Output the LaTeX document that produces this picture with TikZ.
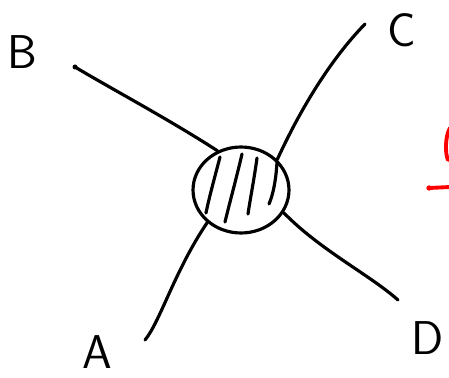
\documentclass[tikz,border=0pt]{standalone}
\usepackage{tikz}
\usetikzlibrary{shapes.geometric}
\tikzset{
  stroke/.style={line width=1.8pt, line cap=round, line join=round},
  lbl/.style={font=\sffamily\fontsize{27}{27}\selectfont, inner sep=0pt}
}
\begin{document}
\begin{tikzpicture}[x=0.02cm, y=-0.02cm]
\useasboundingbox (0,0) rectangle (449,378);
\node[stroke, draw, ellipse, minimum width=1.92cm, minimum height=1.72cm, inner sep=0pt] (blob) at (241,190) {};
\node[lbl] (B) at (22,52) {B};
\node[lbl] (C) at (402,30) {C};
\node[lbl] (A) at (97,352) {A};
\node[lbl] (D) at (428,338) {D};
\coordinate (b) at (75,67);
\coordinate (c) at (365,24);
\coordinate (a) at (145,340);
\coordinate (d) at (398,300);
% legs
\draw[stroke] (b) .. controls (110,88) and (170,120) .. (blob.121);
\draw[stroke] (c) .. controls (330,60) and (300,110) .. (blob.40);
\draw[stroke] (a) .. controls (160,322) and (175,270) .. (blob.224);
\draw[stroke] (d) .. controls (370,275) and (320,250) .. (blob.332);
\fill (b) circle (2.5);
% hatching
\draw[stroke] (220,157) .. controls (214,180) and (209,198) .. (206,213);
\draw[stroke] (242,154) .. controls (236,180) and (229,205) .. (225,222);
\draw[stroke] (257,158) .. controls (254,180) and (250,200) .. (248,214);
\draw[stroke] (277,162) .. controls (276,180) and (273,195) .. (269,204);
% red marks
\draw[stroke, red, line width=2.2pt] (450,128) .. controls (445,136) and (445,154) .. (448,160);
\draw[stroke, red, line width=2.2pt] (429,188) -- (450,187);
\fill[red] (429,188) circle (2.7);
\end{tikzpicture}
\end{document}
